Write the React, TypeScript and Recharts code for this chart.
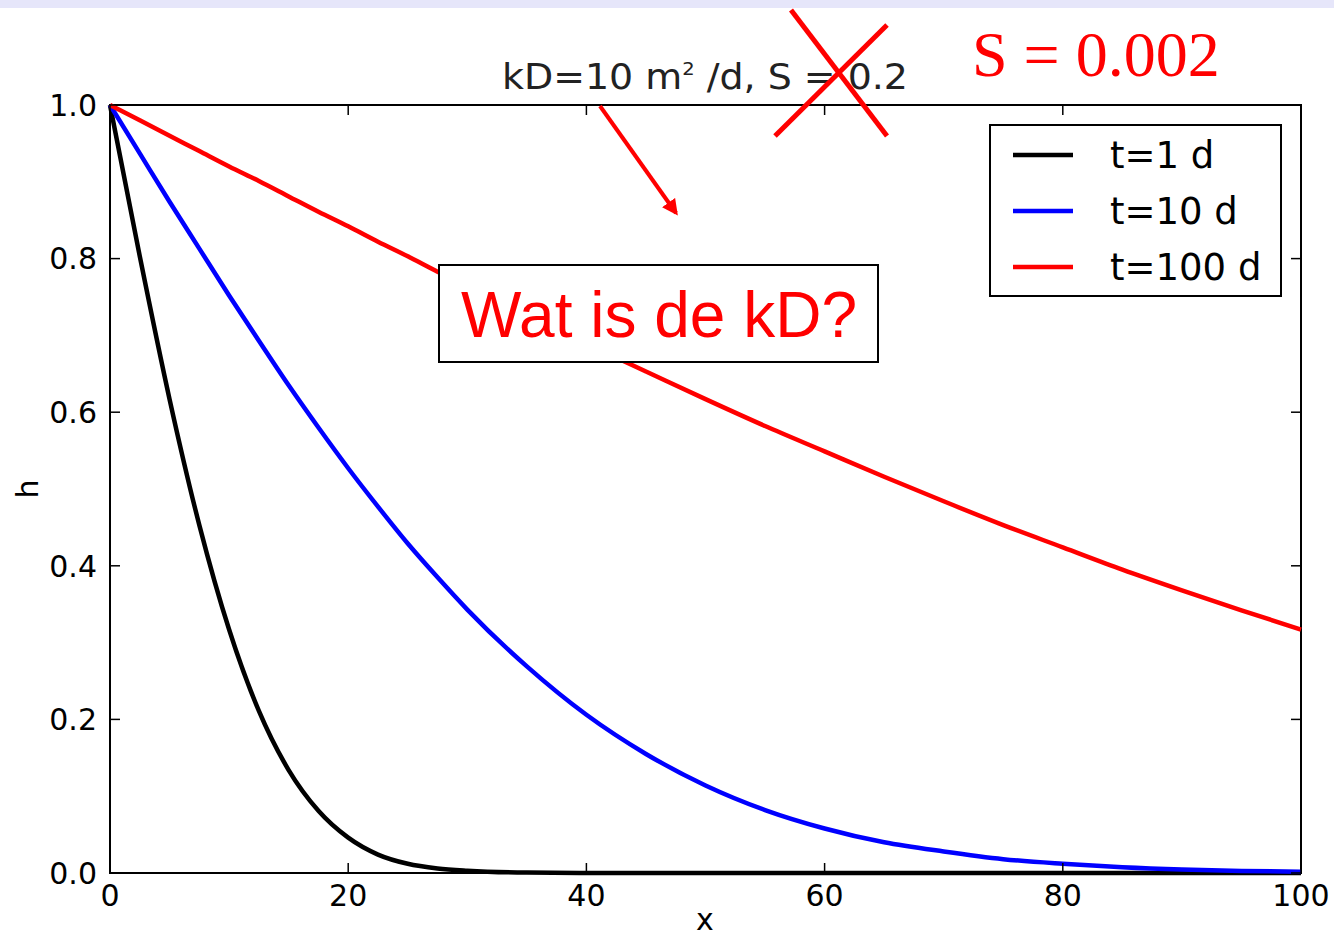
import { LineChart, Line, XAxis, YAxis, ReferenceArea } from "recharts"

// head h at distance x for three times after a sudden change at x = 0
const xs = [0, 2.5, 5, 7.5, 10, 12.5, 15, 17.5, 20, 22.5, 25, 27.5, 30, 35, 40, 45, 50, 55, 60, 65, 70, 75, 80, 85, 90, 95, 100]
const hDay1 = [1, 0.803, 0.617, 0.453, 0.317, 0.211, 0.134, 0.081, 0.046, 0.024, 0.012, 0.006, 0.003, 0.0005, 0.0001, 0, 0, 0, 0, 0, 0, 0, 0, 0, 0, 0, 0]
const hDay10 = [1, 0.937, 0.874, 0.813, 0.752, 0.693, 0.635, 0.58, 0.527, 0.477, 0.429, 0.385, 0.343, 0.269, 0.206, 0.155, 0.114, 0.082, 0.058, 0.04, 0.028, 0.018, 0.012, 0.0075, 0.0045, 0.0027, 0.0016]
const hDay100 = [1, 0.98, 0.96, 0.94, 0.92, 0.901, 0.881, 0.861, 0.842, 0.822, 0.803, 0.783, 0.764, 0.726, 0.689, 0.653, 0.617, 0.582, 0.549, 0.516, 0.484, 0.453, 0.424, 0.395, 0.368, 0.342, 0.317]

const seriesKeys = ["d1", "d10", "d100"]
const seriesNames = ["t=1 d", "t=10 d", "t=100 d"]
const seriesColors = ["#000000", "#0000ff", "#ff0000"]

const xTicks = [0, 20, 40, 60, 80, 100]
const yTicks = [0, 0.2, 0.4, 0.6, 0.8, 1.0]

const data = xs.map((x, i) => ({ x, d1: hDay1[i], d10: hDay10[i], d100: hDay100[i] }))

const W = 1334
const H = 938
const PLOT = { left: 110, top: 105, right: 1301, bottom: 873 }
const FONT = "'DejaVu Sans', sans-serif"

function XTick(props: any) {
  const { x, payload } = props
  return (
    <g>
      <line x1={x} x2={x} y1={PLOT.bottom} y2={PLOT.bottom - 10} stroke="#000" strokeWidth={1.5} />
      <line x1={x} x2={x} y1={PLOT.top} y2={PLOT.top + 10} stroke="#000" strokeWidth={1.5} />
      <text x={x} y={906} textAnchor="middle" fontSize={30} fontFamily={FONT} fill="#000">
        {payload.value}
      </text>
    </g>
  )
}

function YTick(props: any) {
  const { y, payload } = props
  return (
    <g>
      <line x1={PLOT.left} x2={PLOT.left + 10} y1={y} y2={y} stroke="#000" strokeWidth={1.5} />
      <line x1={PLOT.right} x2={PLOT.right - 10} y1={y} y2={y} stroke="#000" strokeWidth={1.5} />
      <text x={97} y={y} dy="0.36em" textAnchor="end" fontSize={30} fontFamily={FONT} fill="#000">
        {Number(payload.value).toFixed(1)}
      </text>
    </g>
  )
}

function Overlay() {
  const legendRows = [155, 211, 267]
  return (
    <svg width={W} height={H} style={{ position: "absolute", left: 0, top: 0, pointerEvents: "none" }}>
      <defs>
        <marker id="head" viewBox="0 0 10 10" refX="8" refY="5" markerWidth="4" markerHeight="4" orient="auto">
          <path d="M0,0 L10,5 L0,10 z" fill="#ff0000" />
        </marker>
      </defs>
      <rect x={0} y={0} width={W} height={8} fill="#e6e6fa" />

      {/* title */}
      <text x={502} y={89} fontSize={35} fontFamily={FONT} fill="#222" textLength={406} lengthAdjust="spacingAndGlyphs">
        kD=10 m<tspan dy={-14} fontSize={18}>2</tspan>
        <tspan dy={14}> /d, S = 0.2</tspan>
      </text>

      {/* axis labels */}
      <text x={705} y={930} textAnchor="middle" fontSize={30} fontFamily={FONT} fill="#000">x</text>
      <text x={38} y={489} textAnchor="middle" fontSize={30} fontFamily={FONT} fill="#000" transform="rotate(-90 38 489)">h</text>

      {/* legend */}
      <rect x={990} y={125} width={291} height={171} fill="#fff" stroke="#000" strokeWidth={2} />
      {seriesNames.map((name, i) => (
        <g key={name}>
          <line x1={1013} x2={1073} y1={legendRows[i]} y2={legendRows[i]} stroke={seriesColors[i]} strokeWidth={4.5} />
          <text x={1110} y={legendRows[i]} dy="0.36em" fontSize={37} fontFamily={FONT} fill="#000">{name}</text>
        </g>
      ))}

      {/* corrections */}
      <line x1={791} y1={10} x2={887} y2={136} stroke="#ff0000" strokeWidth={5} />
      <line x1={887} y1={25} x2={775} y2={136} stroke="#ff0000" strokeWidth={5} />
      <text x={972} y={76} fontSize={64} fontFamily="'Liberation Serif', serif" fill="#ff0000">S = 0.002</text>
      <line x1={600} y1={106} x2={676} y2={213} stroke="#ff0000" strokeWidth={4} markerEnd="url(#head)" />

      <rect x={439} y={265} width={439} height={97} fill="#fff" stroke="#000" strokeWidth={2} />
      <text x={659} y={337} textAnchor="middle" fontSize={64} fontFamily="'Liberation Sans', Arial, sans-serif" fill="#ff0000">
        Wat is de kD?
      </text>
    </svg>
  )
}

export default function App() {
  return (
    <div style={{ position: "absolute", left: 0, top: 0, width: W, height: H, background: "#fff" }}>
      <LineChart
        width={W}
        height={H}
        data={data}
        margin={{ top: PLOT.top, right: W - PLOT.right, bottom: H - PLOT.bottom - 40, left: PLOT.left - 60 }}
      >
        <XAxis
          dataKey="x"
          type="number"
          domain={[0, 100]}
          ticks={xTicks}
          height={40}
          tickLine={false}
          axisLine={false}
          tick={<XTick />}
        />
        <YAxis
          type="number"
          domain={[0, 1]}
          ticks={yTicks}
          width={60}
          tickLine={false}
          axisLine={false}
          tick={<YTick />}
        />
        {seriesKeys.map((key, i) => (
          <Line
            key={key}
            type="monotone"
            dataKey={key}
            name={seriesNames[i]}
            stroke={seriesColors[i]}
            strokeWidth={4.5}
            dot={false}
            isAnimationActive={false}
          />
        ))}
        <ReferenceArea x1={0} x2={100} y1={0} y2={1} fill="none" stroke="#000" strokeWidth={2} ifOverflow="visible" />
      </LineChart>
      <Overlay />
    </div>
  )
}
